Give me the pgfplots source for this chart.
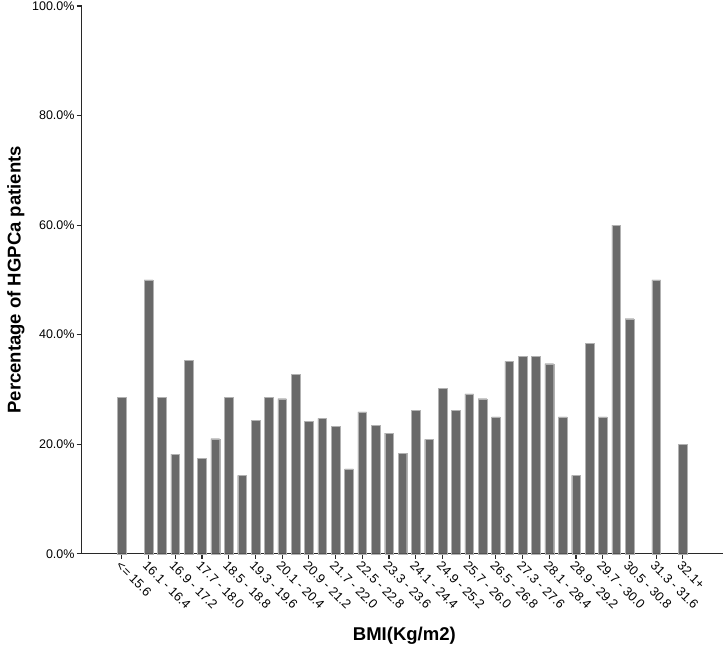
\documentclass[border=0pt]{standalone}
\usepackage{fontspec}
\setmainfont{Liberation Sans}
\usepackage{pgfplots}
\pgfplotsset{compat=1.18}

\definecolor{bargray}{RGB}{105,105,105}
\definecolor{axisgray}{RGB}{40,40,40}

\begin{document}
\begin{tikzpicture}
\begin{axis}[
    name=ax,
    scale only axis,
    width=641pt, height=547.5pt,
    xmin=-3, xmax=45,
    ymin=0, ymax=100,
    axis lines*=left,
    axis line style={axisgray, line width=1.3pt},
    tick style={axisgray, line width=1.1pt},
    tick align=outside,
    major tick length=5pt,
    xtick={0,2,...,42},
    xticklabels={{<= 15.6},16.1 - 16.4,16.9 - 17.2,17.7 - 18.0,18.5 - 18.8,19.3 - 19.6,
        20.1 - 20.4,20.9 - 21.2,21.7 - 22.0,22.5 - 22.8,23.3 - 23.6,24.1 - 24.4,
        24.9 - 25.2,25.7 - 26.0,26.5 - 26.8,27.3 - 27.6,28.1 - 28.4,28.9 - 29.2,
        29.7 - 30.0,30.5 - 30.8,31.3 - 31.6,32.1+},
    xticklabel style={rotate=-45, anchor=north west, inner sep=1pt,
        font=\fontsize{12.8}{15}\selectfont},
    ytick={0,20,...,100},
    yticklabels={0.0\%,20.0\%,40.0\%,60.0\%,80.0\%,100.0\%},
    yticklabel style={font=\fontsize{12.5}{15}\selectfont, inner sep=2pt},
    ylabel={Percentage of HGPCa patients},
    ylabel style={at={(axis description cs:0,0.5)}, anchor=center,
        yshift=65.7pt, font=\fontsize{18.5}{22}\selectfont\bfseries},
    xlabel={BMI(Kg/m2)},
    xlabel style={at={(axis description cs:0.5,0)}, anchor=base,
        xshift=2pt, yshift=-86.5pt, font=\fontsize{18.5}{22}\selectfont\bfseries},
    clip=false,
]
\addplot[ybar, bar width=8.7pt, fill=bargray, draw=white!70!black, line width=0.3pt]
coordinates {
    (0,28.6) (2,50.0) (3,28.6) (4,18.2) (5,35.3) (6,17.4) (7,21.0) (8,28.6)
    (9,14.3) (10,24.4) (11,28.6) (12,28.3) (13,32.7) (14,24.2) (15,24.7)
    (16,23.3) (17,15.5) (18,25.9) (19,23.5) (20,22.0) (21,18.3) (22,26.2)
    (23,20.9) (24,30.2) (25,26.2) (26,29.2) (27,28.3) (28,25.0) (29,35.1)
    (30,36.0) (31,36.0) (32,34.7) (33,25.0) (34,14.3) (35,38.4) (36,25.0)
    (37,60.0) (38,42.9) (40,50.0) (42,20.0)
};
\end{axis}
\pgfresetboundingbox
\path[use as bounding box] ([xshift=-81.7pt,yshift=-90.5pt]ax.south west)
    rectangle ([xshift=2pt,yshift=6pt]ax.north east);
\end{tikzpicture}
\end{document}
